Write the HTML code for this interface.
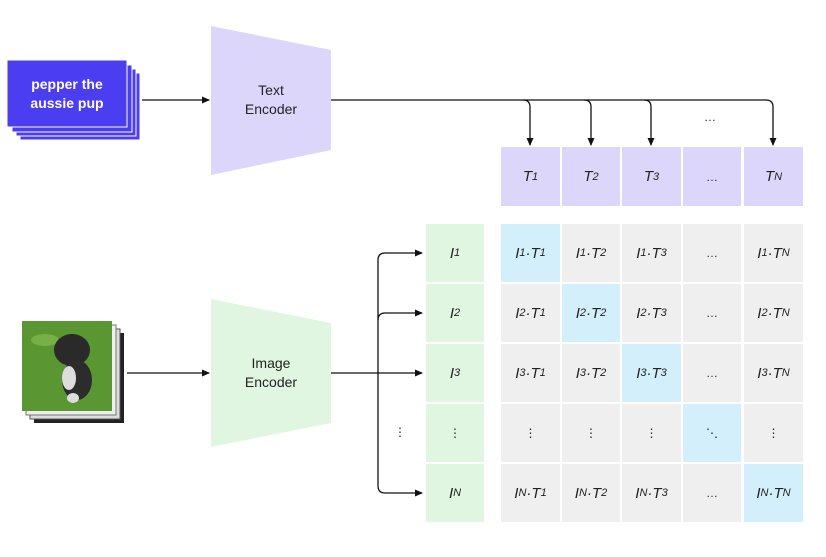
<!DOCTYPE html>
<html><head><meta charset="utf-8"><style>
html,body{margin:0;padding:0;background:#fff}
body{width:826px;height:557px;position:relative;overflow:hidden;font-family:"Liberation Sans",sans-serif}
.c{position:absolute;display:flex;align-items:center;justify-content:center;font-family:"Liberation Sans",sans-serif;font-style:italic;font-size:15px;color:#222}
.c sub{font-size:11px;vertical-align:-5px}
.t{background:#dcd7fa}.i{background:#e0f6e1}.g{background:#efefef}.b{background:#d3effb}
.lbl{position:absolute;text-align:center;font-size:14px;color:#222;line-height:19px}
.n{font-style:normal;font-size:12px}
</style></head><body>
<svg width="826" height="557" style="position:absolute;left:0;top:0">
<defs><marker id="a" markerWidth="8" markerHeight="8" refX="7" refY="4" orient="auto" markerUnits="userSpaceOnUse"><path d="M0,0.5 L8,4 L0,7.5 z" fill="#111"/></marker></defs>
<rect x="20" y="73" width="120" height="67" fill="#4b3df0" stroke="#fff" stroke-width="1"/>
<rect x="16" y="69" width="120" height="67" fill="#4b3df0" stroke="#fff" stroke-width="1"/>
<rect x="12" y="65" width="120" height="67" fill="#4b3df0" stroke="#fff" stroke-width="1"/>
<rect x="7" y="60" width="120" height="67" fill="#4b3df0" stroke="#fff" stroke-width="1"/>
<polygon points="211,26 331,50 331,150 211,175" fill="#dcd7fa"/>
<polygon points="211,299 331,323 331,423 211,447" fill="#e0f6e1"/>
<rect x="34" y="333" width="90" height="90" fill="#222"/>
<rect x="30" y="329" width="90" height="90" fill="#ddd" stroke="#555" stroke-width="1"/>
<rect x="26" y="325" width="90" height="90" fill="#eee" stroke="#777" stroke-width="1"/>
<rect x="22" y="321" width="90" height="90" fill="#5a9632"/>
<ellipse cx="45" cy="340" rx="14" ry="6" fill="#8cbf55" opacity=".6"/>
<ellipse cx="72" cy="350" rx="18" ry="16" fill="#2a2a2a"/>
<ellipse cx="77" cy="380" rx="15" ry="20" fill="#2c2c2c"/>
<ellipse cx="69" cy="378" rx="7" ry="12" fill="#ddd"/>
<ellipse cx="73" cy="398" rx="6" ry="5" fill="#ddd"/>
<line x1="142" y1="100" x2="209" y2="100" stroke="#111" stroke-width="1.3" marker-end="url(#a)"/>
<path d="M331,100 H766 Q773,100 773,107 V145" fill="none" stroke="#111" stroke-width="1.3" marker-end="url(#a)"/>
<path d="M523,100 Q530,100 530,107 V145" fill="none" stroke="#111" stroke-width="1.3" marker-end="url(#a)"/>
<path d="M584,100 Q591,100 591,107 V145" fill="none" stroke="#111" stroke-width="1.3" marker-end="url(#a)"/>
<path d="M644,100 Q651,100 651,107 V145" fill="none" stroke="#111" stroke-width="1.3" marker-end="url(#a)"/>
<line x1="127" y1="373" x2="209" y2="373" stroke="#111" stroke-width="1.3" marker-end="url(#a)"/>
<line x1="331" y1="373" x2="422" y2="373" stroke="#111" stroke-width="1.3" marker-end="url(#a)"/>
<path d="M378,260 Q378,253 385,253 H422" fill="none" stroke="#111" stroke-width="1.3" marker-end="url(#a)"/>
<path d="M378,260 V486 Q378,493 385,493 H422" fill="none" stroke="#111" stroke-width="1.3" marker-end="url(#a)"/>
<path d="M378,320 Q378,313 385,313 H422" fill="none" stroke="#111" stroke-width="1.3" marker-end="url(#a)"/>
</svg>
<div class="lbl" style="left:7px;top:75px;width:120px;color:#fff;font-weight:bold;font-size:14px">pepper the<br>aussie pup</div>
<div class="lbl" style="left:211px;top:81px;width:120px">Text<br>Encoder</div>
<div class="lbl" style="left:211px;top:354px;width:120px">Image<br>Encoder</div>
<div class="lbl" style="left:690px;top:108px;width:40px;font-size:12px">…</div>
<div class="lbl" style="left:390px;top:423px;width:20px;font-size:12px">⋮</div>

<div class="c t" style="left:501px;top:147px;width:59px;height:59px">T<sub>1</sub></div>
<div class="c t" style="left:562px;top:147px;width:58px;height:59px">T<sub>2</sub></div>
<div class="c t" style="left:622px;top:147px;width:59px;height:59px">T<sub>3</sub></div>
<div class="c t n" style="left:683px;top:147px;width:58px;height:59px">…</div>
<div class="c t" style="left:744px;top:147px;width:59px;height:59px">T<sub>N</sub></div>

<div class="c i" style="left:426px;top:224px;width:58px;height:58px">I<sub>1</sub></div>
<div class="c i" style="left:426px;top:284px;width:58px;height:58px">I<sub>2</sub></div>
<div class="c i" style="left:426px;top:344px;width:58px;height:58px">I<sub>3</sub></div>
<div class="c i n" style="left:426px;top:404px;width:58px;height:58px">⋮</div>
<div class="c i" style="left:426px;top:464px;width:58px;height:58px">I<sub>N</sub></div>

<div class="c b" style="left:501px;top:224px;width:59px;height:58px">I<sub>1</sub>·T<sub>1</sub></div>
<div class="c g" style="left:562px;top:224px;width:58px;height:58px">I<sub>1</sub>·T<sub>2</sub></div>
<div class="c g" style="left:622px;top:224px;width:59px;height:58px">I<sub>1</sub>·T<sub>3</sub></div>
<div class="c g n" style="left:683px;top:224px;width:58px;height:58px">…</div>
<div class="c g" style="left:744px;top:224px;width:59px;height:58px">I<sub>1</sub>·T<sub>N</sub></div>

<div class="c g" style="left:501px;top:284px;width:59px;height:58px">I<sub>2</sub>·T<sub>1</sub></div>
<div class="c b" style="left:562px;top:284px;width:58px;height:58px">I<sub>2</sub>·T<sub>2</sub></div>
<div class="c g" style="left:622px;top:284px;width:59px;height:58px">I<sub>2</sub>·T<sub>3</sub></div>
<div class="c g n" style="left:683px;top:284px;width:58px;height:58px">…</div>
<div class="c g" style="left:744px;top:284px;width:59px;height:58px">I<sub>2</sub>·T<sub>N</sub></div>

<div class="c g" style="left:501px;top:344px;width:59px;height:58px">I<sub>3</sub>·T<sub>1</sub></div>
<div class="c g" style="left:562px;top:344px;width:58px;height:58px">I<sub>3</sub>·T<sub>2</sub></div>
<div class="c b" style="left:622px;top:344px;width:59px;height:58px">I<sub>3</sub>·T<sub>3</sub></div>
<div class="c g n" style="left:683px;top:344px;width:58px;height:58px">…</div>
<div class="c g" style="left:744px;top:344px;width:59px;height:58px">I<sub>3</sub>·T<sub>N</sub></div>

<div class="c g n" style="left:501px;top:404px;width:59px;height:58px">⋮</div>
<div class="c g n" style="left:562px;top:404px;width:58px;height:58px">⋮</div>
<div class="c g n" style="left:622px;top:404px;width:59px;height:58px">⋮</div>
<div class="c b n" style="left:683px;top:404px;width:58px;height:58px">⋱</div>
<div class="c g n" style="left:744px;top:404px;width:59px;height:58px">⋮</div>

<div class="c g" style="left:501px;top:464px;width:59px;height:58px">I<sub>N</sub>·T<sub>1</sub></div>
<div class="c g" style="left:562px;top:464px;width:58px;height:58px">I<sub>N</sub>·T<sub>2</sub></div>
<div class="c g" style="left:622px;top:464px;width:59px;height:58px">I<sub>N</sub>·T<sub>3</sub></div>
<div class="c g n" style="left:683px;top:464px;width:58px;height:58px">…</div>
<div class="c b" style="left:744px;top:464px;width:59px;height:58px">I<sub>N</sub>·T<sub>N</sub></div>
</body></html>
